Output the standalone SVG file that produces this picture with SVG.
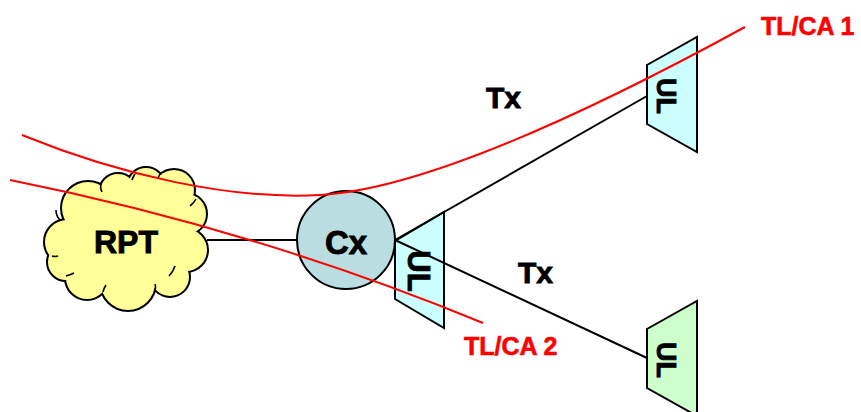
<svg xmlns="http://www.w3.org/2000/svg" width="861" height="412" viewBox="0 0 861 412">
<style>
.lbl{font-family:"Liberation Sans",Arial,sans-serif;font-weight:bold;fill:#000;stroke:#000;stroke-width:0.9}
.red{font-family:"Liberation Sans",Arial,sans-serif;font-weight:bold;fill:#ff0000;stroke:#ff0000;stroke-width:0.6;font-size:25px}
.ul{stroke:#000;stroke-width:2;stroke-linejoin:miter}
.conn{stroke:#000;stroke-width:2;fill:none}
.tl{stroke:#ff0000;stroke-width:2;fill:none}
.cs circle{fill:#ffff99;stroke:#000;stroke-width:4}
.cf circle,.cf ellipse{fill:#ffff99;stroke:none}
.ca{fill:none;stroke:#000;stroke-width:1.6}
</style>
<rect width="861" height="412" fill="#ffffff"/>
<g id="RPT">
  <g class="cs">
    <circle cx="67" cy="242" r="22"/><circle cx="88" cy="208" r="26"/><circle cx="118" cy="192" r="18"/>
    <circle cx="146" cy="186" r="18"/><circle cx="174" cy="190" r="20"/><circle cx="186" cy="214" r="20"/>
    <circle cx="186" cy="250" r="21"/><circle cx="170" cy="277" r="19"/><circle cx="128" cy="283" r="27"/>
    <circle cx="87" cy="278" r="21"/><circle cx="66" cy="262" r="18"/>
  </g>
  <g class="cf">
    <circle cx="67" cy="242" r="22"/><circle cx="88" cy="208" r="26"/><circle cx="118" cy="192" r="18"/>
    <circle cx="146" cy="186" r="18"/><circle cx="174" cy="190" r="20"/><circle cx="186" cy="214" r="20"/>
    <circle cx="186" cy="250" r="21"/><circle cx="170" cy="277" r="19"/><circle cx="128" cy="283" r="27"/>
    <circle cx="87" cy="278" r="21"/><circle cx="66" cy="262" r="18"/>
    <ellipse cx="126" cy="238" rx="60" ry="55"/>
  </g>
  <path class="ca" d="M60,220 q-4,-4 -4,-10 M102,192 q-2,-4 -1,-8 M132,180 q1,-3 3,-6 M158,178 q1,-2 2,-4 M190,206 q4,-3 6,-7 M175,266 q-2,6 -6,10 M155,290 q1,-3 0,-6 M103,292 q1,-4 3,-7 M66,276 q4,-1 8,-3 M52,256 q3,1 6,0"/>
  <text class="lbl" x="126" y="253" font-size="32" text-anchor="middle">RPT</text>
</g>
<g id="Cx">
  <circle cx="346" cy="240" r="49" fill="#b9dde1" stroke="#000" stroke-width="2"/>
  <text class="lbl" x="346" y="254" font-size="33" text-anchor="middle">Cx</text>
</g>
<g id="UL1">
  <polygon class="ul" points="395,241 444,212 444,328 395,299" fill="#ccffff"/>
  <text class="lbl" font-size="31" text-anchor="middle" transform="translate(408,271) rotate(90)">UL</text>
</g>
<g id="UL2">
  <polygon class="ul" points="647,65 697,37 697,152 647,124" fill="#ccffff"/>
  <text class="lbl" font-size="27" text-anchor="middle" transform="translate(657,96) rotate(90)">UL</text>
</g>
<g id="UL3">
  <polygon class="ul" points="647,329 697,301 697,416 647,388" fill="#ccffcc"/>
  <text class="lbl" font-size="27" text-anchor="middle" transform="translate(657,360) rotate(90)">UL</text>
</g>
<g id="connectors">
  <line class="conn" x1="207" y1="240" x2="297" y2="240"/>
  <line class="conn" x1="395" y1="240" x2="647" y2="96"/>
  <line class="conn" x1="395" y1="240" x2="647" y2="358"/>
</g>
<g id="labels">
  <text class="lbl" x="486" y="108" font-size="30">Tx</text>
  <text class="lbl" x="518" y="283" font-size="30">Tx</text>
</g>
<g id="TLCA">
  <path class="tl" d="M22,135 C120,175 230,200 320,195 S560,128 745,27"/>
  <path class="tl" d="M10,180 Q255,229 483,323"/>
  <text class="red" x="761" y="35">TL/CA 1</text>
  <text class="red" x="464" y="355">TL/CA 2</text>
</g>
</svg>
